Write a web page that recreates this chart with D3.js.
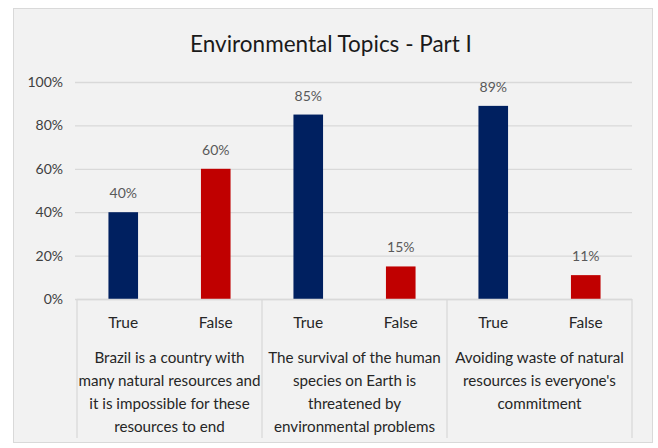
<!DOCTYPE html>
<html>
<head>
<meta charset="utf-8">
<script src="https://cdn.jsdelivr.net/npm/d3@7"></script>
<style>
  html, body { margin: 0; padding: 0; background: #ffffff; }
  svg { display: block; font-family: Lato, "Open Sans", sans-serif; }
</style>
</head>
<body>
<svg id="chart" width="658" height="448"></svg>
<script>
// Survey topics (each shown as wrapped lines under the axis)
const topics = [
  ["Brazil is a country with", "many natural resources and", "it is impossible for these", "resources to end"],
  ["The survival of the human", "species on Earth is", "threatened by", "environmental problems"],
  ["Avoiding waste of natural", "resources is everyone's", "commitment"]
];
const answers = ["True", "False"];
const trueShare = [0.40, 0.85, 0.89];
const falseShare = [0.60, 0.15, 0.11];
const yTicks = [0, 0.2, 0.4, 0.6, 0.8, 1.0];
const chartTitle = "Environmental Topics - Part I";

const colors = { True: "#002060", False: "#c00000" };

const svg = d3.select("#chart");

// chart frame
svg.append("rect")
  .attr("x", 13.5).attr("y", 8.5)
  .attr("width", 639).attr("height", 434)
  .attr("fill", "#f2f2f2")
  .attr("stroke", "#d9d9d9");

const plot = { left: 77, right: 632, top: 82, bottom: 299 };

const y = d3.scaleLinear().domain([0, 1]).range([plot.bottom, plot.top]);
const xGroup = d3.scaleBand().domain(d3.range(topics.length))
  .range([plot.left, plot.right]).paddingInner(0).paddingOuter(0);
const xSub = d3.scaleBand().domain(answers)
  .range([0, xGroup.bandwidth()]).paddingInner(0.68).paddingOuter(0.34);

// title
svg.append("text")
  .attr("x", 331).attr("y", 52)
  .attr("text-anchor", "middle")
  .attr("font-size", 22.5)
  .attr("fill", "#1a1a1a")
  .text(chartTitle);

// y axis with gridlines
const yAxis = d3.axisLeft(y)
  .tickValues(yTicks)
  .tickFormat(d3.format(".0%"))
  .tickSize(-(plot.right - plot.left))
  .tickPadding(14);

const gy = svg.append("g")
  .attr("transform", `translate(${plot.left},0)`)
  .call(yAxis);
gy.select(".domain").remove();
gy.selectAll(".tick line")
  .attr("stroke", "#d9d9d9").attr("stroke-width", 1.3)
  .attr("x1", -2);
gy.selectAll(".tick text")
  .attr("font-size", 14).attr("fill", "#404040")
  .attr("font-family", "Lato, sans-serif");

// bars
const rows = [];
topics.forEach((t, i) => {
  rows.push({ g: i, a: "True", v: trueShare[i] });
  rows.push({ g: i, a: "False", v: falseShare[i] });
});

svg.append("g").selectAll("rect")
  .data(rows)
  .join("rect")
  .attr("x", d => xGroup(d.g) + xSub(d.a))
  .attr("y", d => y(d.v))
  .attr("width", xSub.bandwidth())
  .attr("height", d => y(0) - y(d.v))
  .attr("fill", d => colors[d.a]);

// value labels
svg.append("g").selectAll("text")
  .data(rows)
  .join("text")
  .attr("x", d => xGroup(d.g) + xSub(d.a) + xSub.bandwidth() / 2)
  .attr("y", d => y(d.v) - 14)
  .attr("text-anchor", "middle")
  .attr("font-size", 14)
  .attr("fill", "#595959")
  .text(d => d3.format(".0%")(d.v));

// category axis: baseline and group separators
const axisG = svg.append("g");
axisG.append("line")
  .attr("x1", plot.left).attr("x2", plot.right)
  .attr("y1", plot.bottom + 0.5).attr("y2", plot.bottom + 0.5)
  .attr("stroke", "#d9d9d9").attr("stroke-width", 1.3);

const seps = d3.range(topics.length + 1).map(i =>
  i < topics.length ? xGroup(i) : plot.right);
axisG.selectAll("line.sep")
  .data(seps)
  .join("line")
  .attr("class", "sep")
  .attr("x1", d => d).attr("x2", d => d)
  .attr("y1", plot.bottom).attr("y2", 438)
  .attr("stroke", "#d9d9d9").attr("stroke-width", 1.3);

// answer labels
axisG.selectAll("text.ans")
  .data(rows)
  .join("text")
  .attr("class", "ans")
  .attr("x", d => xGroup(d.g) + xSub(d.a) + xSub.bandwidth() / 2)
  .attr("y", 328)
  .attr("text-anchor", "middle")
  .attr("font-size", 15.5)
  .attr("fill", "#262626")
  .text(d => d.a);

// topic labels
topics.forEach((lines, i) => {
  const t = axisG.append("text")
    .attr("text-anchor", "middle")
    .attr("font-size", 15.2)
    .attr("fill", "#262626");
  lines.forEach((ln, j) => {
    t.append("tspan")
      .attr("x", xGroup(i) + xGroup.bandwidth() / 2)
      .attr("y", 363 + j * 23)
      .text(ln);
  });
});
</script>
</body>
</html>
